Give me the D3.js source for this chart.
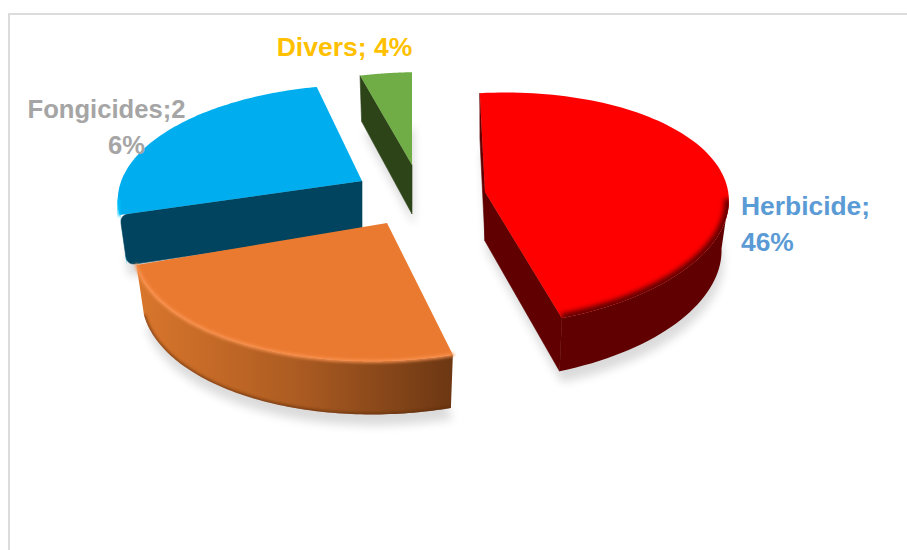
<!DOCTYPE html>
<html>
<head>
<meta charset="utf-8">
<script src="https://cdn.jsdelivr.net/npm/d3@7"></script>
<style>
  html, body { margin: 0; padding: 0; background: #fff; }
  svg { display: block; }
  text { font-family: "Liberation Sans", Arial, sans-serif; font-weight: 700; }
</style>
</head>
<body>
<svg id="chart" width="907" height="550"></svg>
<script>
// Pie shares, in percent, clockwise from twelve o'clock
const categories = ["Herbicide", "Insecticides", "Fongicides", "Divers"];
const shares = [46, 24, 26, 4];
const labelLines = [["Herbicide;", "46%"], [], ["Fongicides;2", "6%"], ["Divers; 4%"]];

// Look of each slice
const topColors = ["#ff0000", "#ea7a30", "#00aeef", "#70ad47"];
const sideColors = ["#600000", "url(#orangeSide)", "#00b4f5", "#2d4419"];
const radialColors = ["#600000", "#a85a20", "#00445f", "#2d4419"];
const edgeColors = ["#600000", "#fb9350", "#00c4ff", "#70ad47"];
const labelColors = ["#5b9bd5", "#000", "#a5a5a5", "#ffc000"];
const cornerRadius = [0, 0, 9, 0];

// Layout of the exploded pie
const hub = { x: 418, y: 188 };
const explodeX = [67, -31, -56, -6];
const explodeY = [4, 35, -7, -23];
const labelX = [741, 0, 106.5, 344.5];
const labelY = [215, 0, 118, 56];
const labelSize = [26.4, 26, 25.6, 26.5];
const labelAnchor = ["start", "start", "middle", "middle"];
const labelLineShift = [[0, 0], [], [0, 20], [0]];
const labelLeading = 36;

// Tilted-disc camera, one set of terms per slice because the perspective shifts as slices move out
const camA = [240, 249, 240, 240];
const camB = [6, -6, -8, 0];
const camD = [-12, -4, 2, -4];
const camE = [114, 117, 111, 107];
const cam = { c: -0.153, depth: 49, bottomShrink: 0.97 };
function project(i, angle, radius, lowered) {
  const u = Math.sin(angle) * radius, v = -Math.cos(angle) * radius;
  const w = 1 + cam.c * v;
  let x = (camA[i] * u + camB[i] * v) / w;
  let y = (camD[i] * u + camE[i] * v) / w;
  if (lowered) { x *= cam.bottomShrink; y += cam.depth / Math.sqrt(w); }
  return [x, y];
}

const svg = d3.select("#chart");
const defs = svg.append("defs");

const blur = (id, sd) => defs.append("filter").attr("id", id)
  .attr("x", "-30%").attr("y", "-30%").attr("width", "160%").attr("height", "160%")
  .append("feGaussianBlur").attr("stdDeviation", sd);
blur("soft", 5);
blur("bevel", 2.6);
blur("lip", 1.4);

const orangeGrad = defs.append("linearGradient").attr("id", "orangeSide")
  .attr("gradientUnits", "userSpaceOnUse").attr("x1", -250).attr("x2", 66).attr("y1", 0).attr("y2", 0);
orangeGrad.append("stop").attr("offset", 0).attr("stop-color", "#d9762c");
orangeGrad.append("stop").attr("offset", 0.5).attr("stop-color", "#ad5c22");
orangeGrad.append("stop").attr("offset", 1).attr("stop-color", "#6c3713");

// Chart frame
svg.append("rect").attr("x", 9).attr("y", 14).attr("width", 1000).attr("height", 1000)
  .attr("fill", "#fff").attr("stroke", "#dcdcdc").attr("stroke-width", 2);

const arcs = d3.pie().sort(null).startAngle(0).endAngle(2 * Math.PI)(shares);
const line = d3.line();
const steps = 90;

// Outline data for one slice
const slices = arcs.map((d, i) => {
  const angles = d3.range(steps + 1).map(k => d.startAngle + (d.endAngle - d.startAngle) * k / steps);
  const rim = angles.map(t => project(i, t, 1, false));
  const rimLow = angles.map(t => project(i, t, 1, true));
  const apex = [0, 0];
  const apexLow = project(i, 0, 0, true);
  // Only rim stretches running leftwards on screen face the viewer
  const front = d3.range(steps).filter(k => rim[k + 1][0] < rim[k][0]);
  return { i, rim, rimLow, apex, apexLow, front };
});

const gShadow = svg.append("g");
const gPie = svg.append("g");

slices.forEach(s => {
  gShadow.append("path")
    .attr("transform", `translate(${hub.x + explodeX[s.i] + 2},${hub.y + explodeY[s.i] + 11})`)
    .attr("d", line([s.apexLow, ...s.rimLow]) + "Z")
    .attr("fill", "#000").attr("opacity", 0.14).attr("filter", "url(#soft)");
});

// Point on the way from a to b, dist pixels from a
function along(a, b, dist) {
  const len = Math.hypot(b[0] - a[0], b[1] - a[1]);
  return [a[0] + (b[0] - a[0]) * dist / len, a[1] + (b[1] - a[1]) * dist / len];
}

// Straight cut face from the hub out to the rim, with the far corners optionally rounded
function radialFace(apex, apexLow, outer, outerLow, r) {
  if (!r) return line([apex, outer, outerLow, apexLow]) + "Z";
  const p = d3.path();
  const a = along(outer, apex, r), b = along(outer, outerLow, r);
  const c = along(outerLow, outer, r), e = along(outerLow, apexLow, r);
  p.moveTo(apex[0], apex[1]);
  p.lineTo(a[0], a[1]);
  p.quadraticCurveTo(outer[0], outer[1], b[0], b[1]);
  p.lineTo(c[0], c[1]);
  p.quadraticCurveTo(outerLow[0], outerLow[1], e[0], e[1]);
  p.lineTo(apexLow[0], apexLow[1]);
  p.closePath();
  return p.toString();
}

// Painted back to front
[3, 2, 0, 1].forEach(i => {
  const s = slices[i];
  const g = gPie.append("g").attr("transform", `translate(${hub.x + explodeX[i]},${hub.y + explodeY[i]})`);
  const last = s.rim.length - 1;

  // Curved outer wall
  const keep = s.front.length ? [...s.front, s.front[s.front.length - 1] + 1] : [];
  const upper = keep.map(k => s.rim[k]);
  const lower = keep.map(k => s.rimLow[k]);
  if (keep.length) {
    g.append("path").attr("d", line([...upper, ...lower.slice().reverse()]) + "Z").attr("fill", sideColors[i]);
    if (i === 1) {
      defs.append("clipPath").attr("id", "wall1").append("path")
        .attr("d", line([...upper, ...lower.slice().reverse()]) + "Z");
      g.append("g").attr("clip-path", "url(#wall1)").append("path").attr("d", line(lower))
        .attr("fill", "none").attr("stroke", "#5a2c0a").attr("stroke-width", 3)
        .attr("opacity", 0.7).attr("filter", "url(#lip)");
    }
  }

  // Straight cut faces that turn towards the viewer
  if (s.rim[0][0] < s.apex[0]) {
    g.append("path").attr("d", radialFace(s.apex, s.apexLow, s.rim[0], s.rimLow[0], cornerRadius[i]))
      .attr("fill", radialColors[i]).attr("stroke", radialColors[i]).attr("stroke-width", 0.6);
  }
  if (s.apex[0] < s.rim[last][0]) {
    g.append("path").attr("d", radialFace(s.apex, s.apexLow, s.rim[last], s.rimLow[last], cornerRadius[i]))
      .attr("fill", radialColors[i]).attr("stroke", radialColors[i]).attr("stroke-width", 0.6);
  }

  // Flat upper face
  const face = line([s.apex, ...s.rim]) + "Z";
  defs.append("clipPath").attr("id", "face" + i).append("path").attr("d", face);
  g.append("path").attr("d", face).attr("fill", topColors[i]);

  // Rounded shoulder where the face meets the wall
  if (keep.length) {
    if (i === 0) {
      g.append("g").attr("clip-path", "url(#face0)").append("path").attr("d", line(upper))
        .attr("fill", "none").attr("stroke", edgeColors[0]).attr("stroke-width", 9)
        .attr("filter", "url(#bevel)");
    } else {
      g.append("path").attr("d", line(upper)).attr("fill", "none")
        .attr("stroke", edgeColors[i]).attr("stroke-width", 3).attr("stroke-linecap", "round")
        .attr("filter", "url(#lip)");
    }
  }
});

// Data labels
labelLines.forEach((lines, i) => {
  lines.forEach((t, k) => {
    svg.append("text").attr("x", labelX[i] + labelLineShift[i][k]).attr("y", labelY[i] + k * labelLeading)
      .attr("text-anchor", labelAnchor[i]).attr("fill", labelColors[i])
      .attr("font-size", labelSize[i]).text(t);
  });
});
</script>
</body>
</html>
